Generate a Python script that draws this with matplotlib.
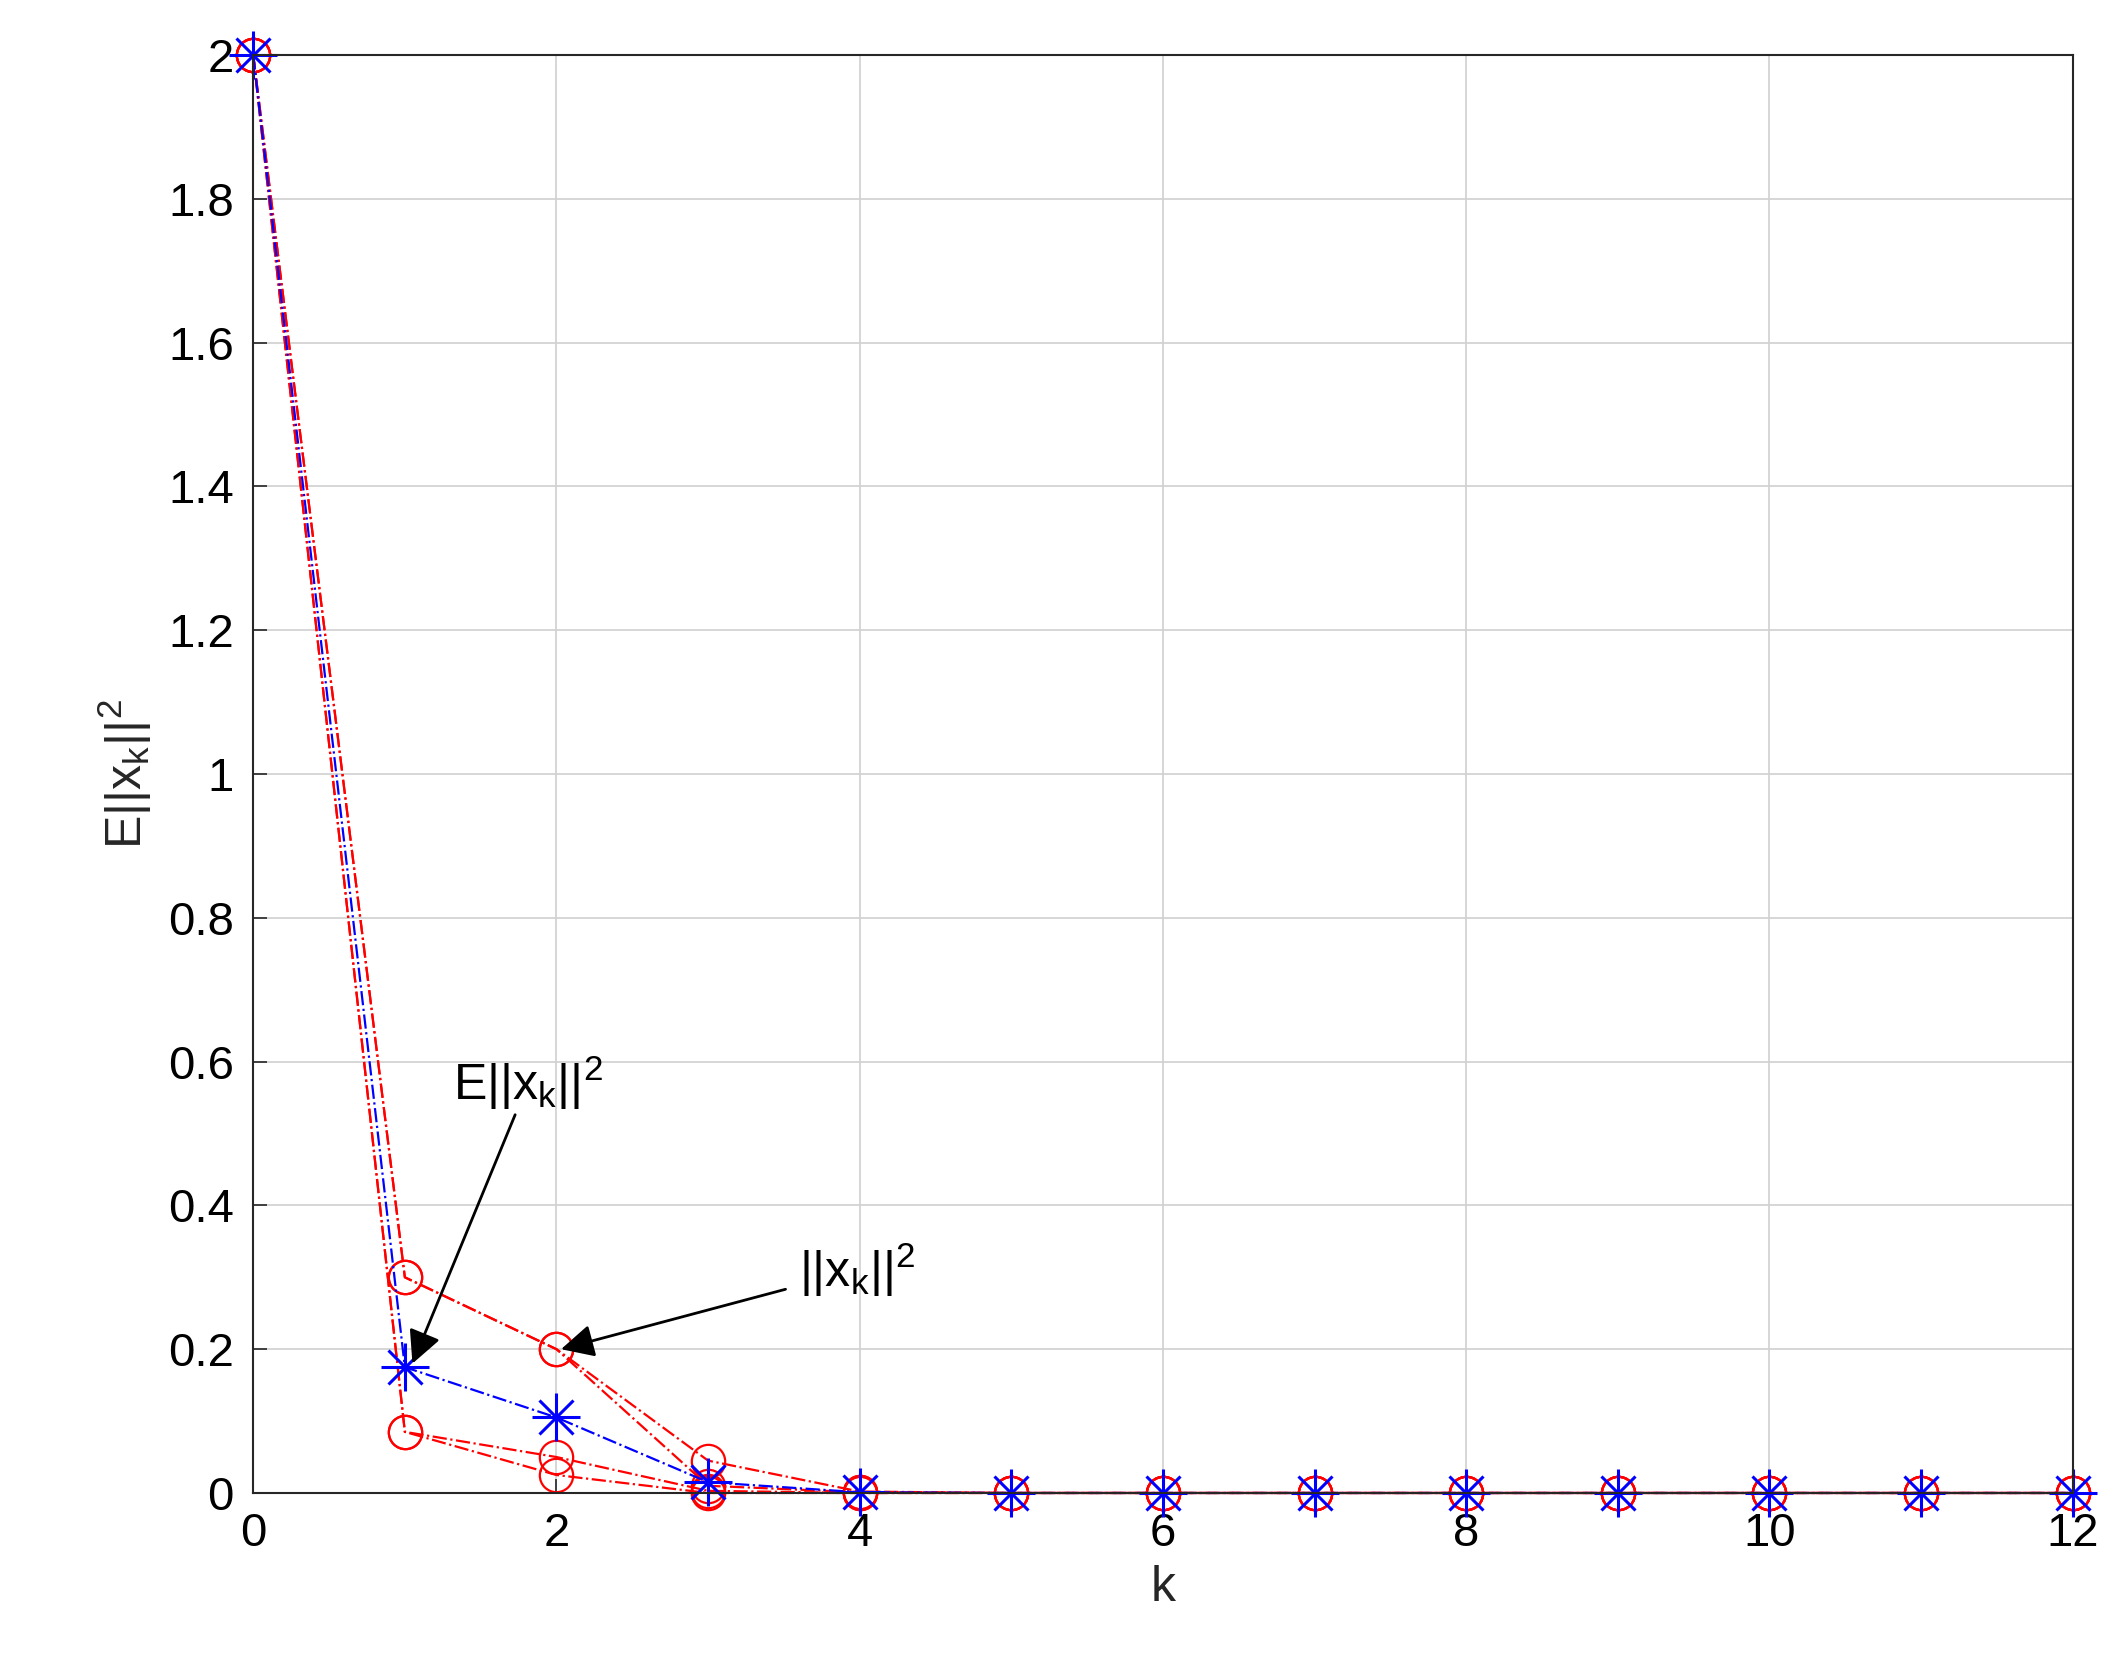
import matplotlib
matplotlib.use("Agg")
import matplotlib.pyplot as plt
import numpy as np

plt.rcParams['font.family'] = ['Liberation Sans', 'DejaVu Sans']
plt.rcParams['mathtext.fontset'] = 'custom'
plt.rcParams['mathtext.rm'] = 'Liberation Sans'
plt.rcParams['mathtext.it'] = 'Liberation Sans'

k = list(range(13))
red_series = [
    [2, 0.30, 0.20, 0.045, 0.002, 0, 0, 0, 0, 0, 0, 0, 0],
    [2, 0.30, 0.20, 0.010, 0.001, 0, 0, 0, 0, 0, 0, 0, 0],
    [2, 0.085, 0.05, 0.003, 0, 0, 0, 0, 0, 0, 0, 0, 0],
    [2, 0.085, 0.025, 0.0, 0, 0, 0, 0, 0, 0, 0, 0, 0],
]
blue_series = [2, 0.175, 0.105, 0.015, 0.001, 0, 0, 0, 0, 0, 0, 0, 0]

fig = plt.figure(figsize=(21.28, 16.7), dpi=100)
ax = fig.add_axes([0.119, 0.106, 0.855, 0.861])
for s in red_series:
    ax.plot(k, s, '-.', color='red', marker='o', markersize=24, markerfacecolor='none',
            markeredgewidth=1.6, linewidth=1.6, clip_on=False)
ax.plot(k, blue_series, '-.', color='blue', linewidth=1.6, clip_on=False)
ax.plot(k, blue_series, linestyle='none', color='blue', marker='+', markersize=34,
        markeredgewidth=2.2, clip_on=False)
ax.plot(k, blue_series, linestyle='none', color='blue', marker='x', markersize=24,
        markeredgewidth=2.2, clip_on=False)

ax.set_xlim(0, 12)
ax.set_ylim(0, 2)
ax.set_xticks(range(0, 13, 2))
ax.set_yticks(np.arange(0, 2.01, 0.2))
ax.set_yticklabels(['0', '0.2', '0.4', '0.6', '0.8', '1', '1.2', '1.4', '1.6', '1.8', '2'])
ax.grid(True, color='#d0d0d0', linewidth=1.2)
ax.tick_params(labelsize=34, direction='in', length=10, width=1.2, color='#262626', pad=14)
for sp in ax.spines.values():
    sp.set_linewidth(1.5)
    sp.set_color('#262626')
ax.set_xlabel('k', fontsize=36, color='#262626', labelpad=6)
ax.set_ylabel(r'E||x$_\mathregular{k}$||$^\mathregular{2}$', fontsize=36, color='#262626', labelpad=10)

ax.annotate(r'E||x$_\mathregular{k}$||$^\mathregular{2}$', xy=(1.05, 0.18), xytext=(1.32, 0.53),
            fontsize=36, ha='left', va='bottom',
            arrowprops=dict(arrowstyle='-|>', color='black', lw=2, mutation_scale=50,
                            shrinkA=0, shrinkB=0))
ax.annotate(r'||x$_\mathregular{k}$||$^\mathregular{2}$', xy=(2.03, 0.2), xytext=(3.6, 0.31),
            fontsize=36, ha='left', va='center',
            arrowprops=dict(arrowstyle='-|>', color='black', lw=2, mutation_scale=50,
                            shrinkA=8, shrinkB=0))

fig.savefig('out.png', dpi=100, facecolor='white')
